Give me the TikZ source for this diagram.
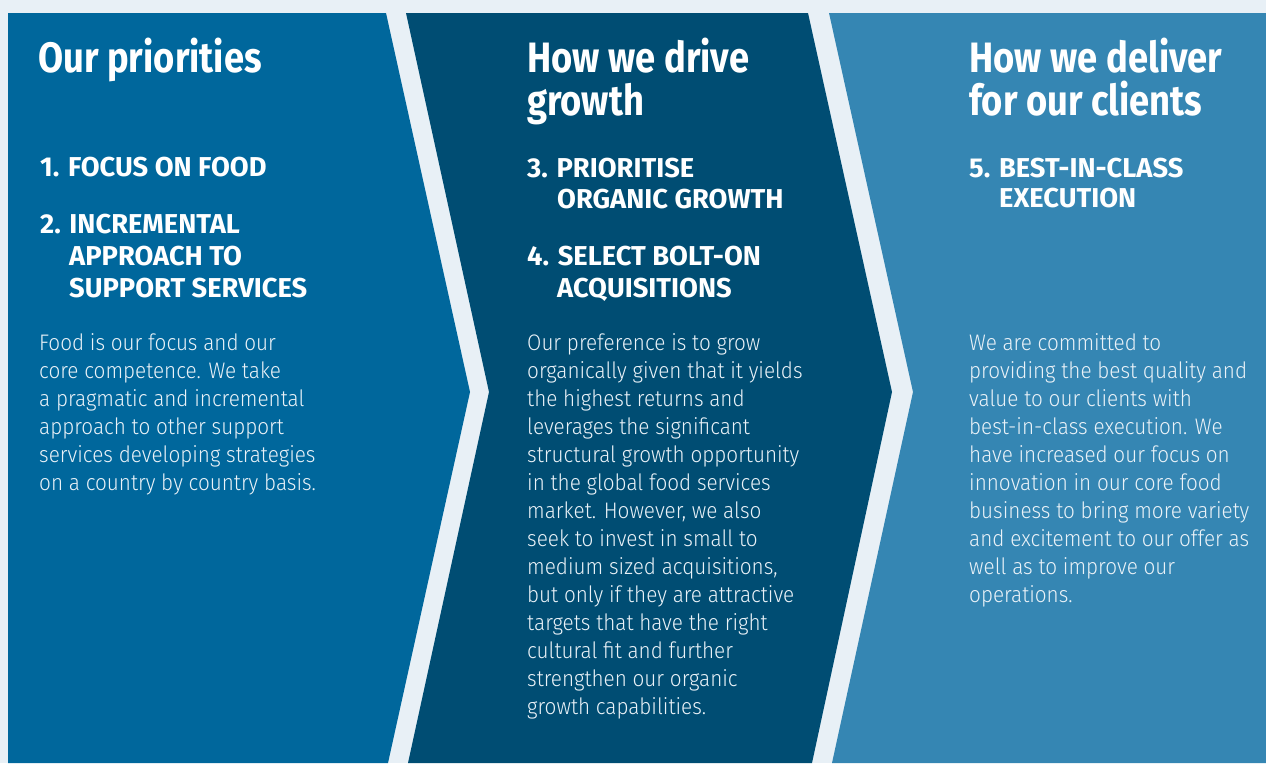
\documentclass[tikz,border=0pt]{standalone}
\usepackage{fontspec}
\setmainfont{Fira Sans}
\newfontfamily\titlefont{Fira Sans}[UprightFont=* Bold, FakeStretch=0.855]
\newfontfamily\headfont{Fira Sans}[UprightFont=* Bold]
\newfontfamily\bodyfont{Fira Sans Light}[FakeStretch=0.92]
\definecolor{bgc}{HTML}{E8F0F6}
\definecolor{pone}{HTML}{00679C}
\definecolor{ptwo}{HTML}{004D73}
\definecolor{pthree}{HTML}{3586B3}
\definecolor{bodytxt}{HTML}{EAF2F8}
\tikzset{
  panel/.style={draw=none},
  ttl/.style={anchor=base west, inner sep=0pt, text=white, font=\titlefont\fontsize{42.5}{43}\selectfont},
  hd/.style={anchor=base west, inner sep=0pt, text=white, font=\headfont\fontsize{27.3}{32}\selectfont},
  bd/.style={anchor=base west, inner sep=0pt, text=bodytxt, font=\bodyfont\fontsize{22.5}{28}\selectfont},
}
\begin{document}
\begin{tikzpicture}[x=1pt,y=-1pt]
\useasboundingbox (0,0) rectangle (1266,763);
\fill[bgc] (0,0) rectangle (1266,763);
\fill[pone,panel] (8,13) -- (386,13) -- (470,392) -- (388,763) -- (8,763) -- cycle;
\fill[ptwo,panel] (406,13) -- (808,13) -- (892,392) -- (812,763) -- (408,763) -- (489,392) -- cycle;
\fill[pthree,panel] (829,13) -- (1266,13) -- (1266,763) -- (832,763) -- (913,392) -- cycle;
% panel 1
\node[ttl] (t1) at (38,72) {Our priorities};
\node[hd] (h1a) at (40,176) {1. FOCUS ON FOOD};
\node[hd] (h1b) at (40,233) {2. INCREMENTAL};
\node[hd] (h1c) at (69,265) {APPROACH TO};
\node[hd] (h1d) at (69,297) {SUPPORT SERVICES};
\foreach \t [count=\i] in {Food is our focus and our, core competence. We take, a pragmatic and incremental, approach to other support, services developing strategies, on a country by country basis.}
  \node[bd] (b1-\i) at (39,{350+28*(\i-1)}) {\t};
% panel 2
\node[ttl] (t2a) at (527,72) {How we drive};
\node[ttl] (t2b) at (527,115) {growth};
\node[hd] (h2a) at (527,177) {3. PRIORITISE};
\node[hd] (h2b) at (557,208) {ORGANIC GROWTH};
\node[hd] (h2c) at (527,265) {4. SELECT BOLT-ON};
\node[hd] (h2d) at (557,297) {ACQUISITIONS};
\foreach \t [count=\i] in {Our preference is to grow, organically given that it yields, the highest returns and, leverages the significant, structural growth opportunity, in the global food services, {market. However, we also}, seek to invest in small to, {medium sized acquisitions,}, but only if they are attractive, targets that have the right, cultural fit and further, strengthen our organic, growth capabilities.}
  \node[bd] (b2-\i) at (527,{350+28*(\i-1)}) {\t};
% panel 3
\node[ttl] (t3a) at (969,72) {How we deliver};
\node[ttl] (t3b) at (969,115) {for our clients};
\node[hd] (h3a) at (969,177) {5. BEST-IN-CLASS};
\node[hd] (h3b) at (999,207) {EXECUTION};
\foreach \t [count=\i] in {We are committed to, providing the best quality and, value to our clients with, best-in-class execution. We, have increased our focus on, innovation in our core food, business to bring more variety, and excitement to our offer as, well as to improve our, operations.}
  \node[bd] (b3-\i) at (969,{350+28*(\i-1)}) {\t};
\end{tikzpicture}
\end{document}
